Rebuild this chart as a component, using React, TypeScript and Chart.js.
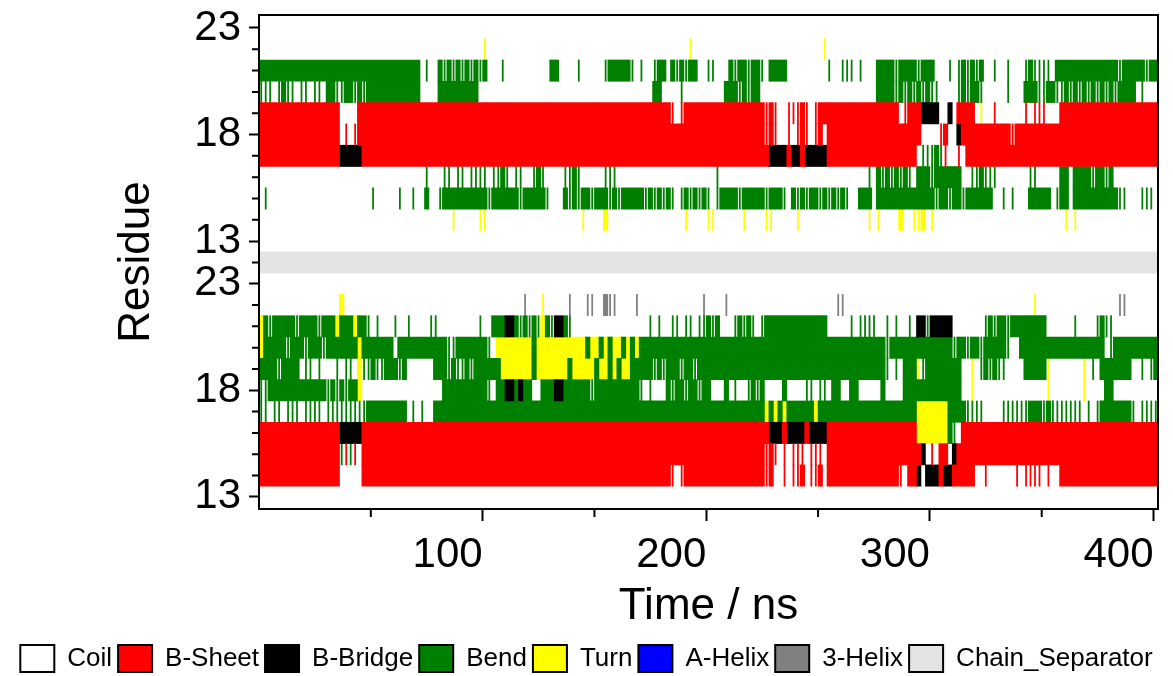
import React, { useEffect, useRef } from 'react';
import { Chart, registerables } from 'chart.js';

Chart.register(...registerables);

// ---------- axes / categories ----------
const TIME_MIN = 0;
const TIME_MAX = 402;
const BIN_NS = 2; // each character of a row string = one 2 ns frame bin
const STRIPE_NS = 0.5; // lowercase = brief occurrence inside a bin
const X_MAJOR_TICKS = [100, 200, 300, 400];
const X_MINOR_TICKS = [50, 150, 250, 350];
const RESIDUES = [13, 14, 15, 16, 17, 18, 19, 20, 21, 22, 23];
const LABELED_RESIDUES = [13, 18, 23];

const STATE_NAMES = ['Coil', 'B-Sheet', 'B-Bridge', 'Bend', 'Turn', 'A-Helix', '3-Helix', 'Chain_Separator'];
const STATE_CODES = ['C', 'E', 'B', 'S', 'T', 'H', 'G', 'X'];
const STATE_COLORS = ['#ffffff', '#ff0000', '#000000', '#008000', '#ffff00', '#0000ff', '#808080', '#e4e4e4'];

// ---------- data: upper chain, residues 13..23 ("a-b:X" fills bins a..b, "a:xyz" sets bins from a) ----------
const CHAIN_TOP = [
  /*13*/ '',
  /*14*/ '43:t 49:t 50:t 72:t 77:T 95:t 100:t 101:t 108:t 113:tt 120:t 136:t 138:t 143:T 146:ttT 150:t 180:t 182:t',
  /*15*/ '1:s 25:s 31:s 34:s 37:S 40:sSSSSSSSSS 50:SsSSSSSSsS 60:SSSSs...Ss 70:SsSSsSSSsS 80:sSSSSSsSsS 90:sSs.sSsSsS 100:s.sSSSSsSS 110:SSSsSSSs.S 120:sSsSSsSsSs 130:Ss..SSS.SS 140:SSSSSSSSSS 150:SsSSsSSsSS 160:SSSS..s.s. 170:..SSSSS.sS 180:S.SSSSSSSS 190:SSss...sss.',
  /*16*/ '37:s 41:ss.ss.ssss 52:ssSs.ss..sSs 68:ssSs 77:sss 102:s 136:s 138:SsSsSsSs 147-156:S 150:s 159:ssSsss 172:ss 179:SS 182:SSSSsSSsS',
  /*17*/ '0-17:E 18-22:B 23-112:E 113:EBBBBEBBEBBBBBE 128-146:E 148:sss 150:sSse..e 158-200:E',
  /*18*/ '0-17:E 18:.e.e 22-112:E 113:eEe..e.eEe.eE. 127-147:E 152:eE 156:B 157-200:E 168:e',
  /*19*/ '0-17:E 22-91:E 92:e.e 95-112:E 113:eEe..eeeEe.eEE 127-142:E 143:.eEEEBBB 150:BB..B.EEEE.t..e 171:e.eee 179-200:E',
  /*20*/ '0:sss.sSss.ss.ss 15:SSssSSsSsS 25-35:S 40-48:S 88:SS 94:s 104-111:S 107:s 109:s 138:SSSSsSsSsSsSs 150:ss 156:sSsSSs 167:s 171:SSSssSS 178:ssSsSsSsSsSsSs 192-195:S 197:s',
  /*21*/ '0-35:S 37:s 40:SsSsSsSsSs 50:S 54:s 65:SS 71:s 77:sSSSSSs 85:s 88:sSS 92:SsSs 96:SS 100:ss 105:SsSSsSSs 114-117:S 127:s 130:sss 134:s 138-150:S 142:s 147:s 154:s 156:sSsSsS 164:s 167:s 171:sSssss 178-191:S 192:s 193-197:S 198:s 199:SS',
  /*22*/ '50:t 96:t 126:t',
  /*23*/ '',
];

// ---------- data: lower chain, residues 13..23 ----------
const CHAIN_BOTTOM = [
  /*13*/ '',
  /*14*/ '0-17:E 23-91:E 92:e.e 95-112:E 113:eE..e.eeE.eeE. 127-142:E 143:e. 145:EEB.BBBEBB 155-159:E 162:e 169:e 171:eeee 176:e 179-200:E',
  /*15*/ '0-17:E 18:sese 23-112:E 113:eEe.e.eee.eee. 127-147:E 148:B 150:e 152:EE 155:B 156-200:E',
  /*16*/ '0-17:E 18-22:B 23-112:E 113:EBBBEBBBBEBBBBE 128-146:E 147:TTTTTTT 154:Ss 157-200:E',
  /*17*/ '0:ss.ss.sss.ssss.sssssssss 24-32:S 33:.s.s.. 39-112:S 113:TSTSTSSSSSSTS 126-146:S 147:TTTTTTTS 155-157:S 158:ssss 166:ssssss 172:SSS 175:sSssssss 183:s.s.s 188-194:S 195:s 197:ssss',
  /*18*/ '0:ss 2-14:S 15:sSsSsSST 41-50:S 51:s. 53:SSBBSBSS.. 63-65:S 66:BB 68-84:S 74:s 85:s.s... 91:SsSSsSSsSS 104:S 106:s..s 110:SsS 117:S 122:ss.ss 128:SS 132:SS 139:S 144-156:S 159:t 176:t 184:t 189:SS',
  /*19*/ '0-8:S 4:s 10:ss 13:s 17:s 19:ss 22:T 23:s 24:sSss 28:SSSsS 39:SSSsSssSsSSS 50-53:S 54:TTTTTTTSTTTTTTTSTTTT 74:TSTTSTSTTS 84:SSSSsSs 91-139:S 94:s 97:s 140:s.s. 144-146:S 147:tsSS 150-156:S 157:..t 161:sSsSss 171-175:S 176:t 184:t 186:s 188-194:S 197:s 199:sS',
  /*20*/ '0:T 1-29:S 6:s 10:s 14:s 22:T 31-41:S 42:ss 44-50:S 51:s 53:TTTTTTTTSTTTTTTTTT 71:TTSTTSTSTTSTST 85-166:S 140:s 155:s 158:s 161:s 167:s 170-188:S 190:s 191-200:S',
  /*21*/ '0:TSsSSSSSsSSSSsSSSTSSSTSSs 26:s 30:s 33:s 38:ss 49:s 52:SSSBB 57:SsSsSsTSs 66:BBSs 87:s 89:s 92:ss 95:ss 98:ss 100:SsS 106:sSsSs 112:sSS 115-126:S 132:s 134:ssss 140:s 142:s 145:s 147:BBsBBBBB 162:sSsSSs 168-175:S 182:s 187:sSss',
  /*22*/ '18:T 59:g 63:t 69:g 73:gg 77:Gg 79:g 84:g 99:g 104:g 129:gg 173:t 192:gg',
  /*23*/ '',
];

const SEPARATOR_SPEC = '0-200:X';

// ---------- helpers ----------
const N_BINS = Math.ceil((TIME_MAX - TIME_MIN) / BIN_NS);
const SEPARATOR_ROW = RESIDUES.length;
const TOTAL_ROWS = RESIDUES.length * 2 + 1;
const Y_MIN = -0.57;
const Y_MAX = TOTAL_ROWS - 0.5 + 0.11;

const rowBottom = (res: number) => RESIDUES.indexOf(res);
const rowTop = (res: number) => SEPARATOR_ROW + 1 + RESIDUES.indexOf(res);

const Y_TICK_ROWS = [...LABELED_RESIDUES.map(rowBottom), ...LABELED_RESIDUES.map(rowTop)];
const Y_TICK_LABELS = [...LABELED_RESIDUES, ...LABELED_RESIDUES].map(String);

function decodeRow(spec: string): string[] {
  const bins = new Array(N_BINS).fill('.');
  spec.split(/\s+/).filter(Boolean).forEach((tok) => {
    const idx = tok.indexOf(':');
    const range = tok.slice(0, idx);
    const chars = tok.slice(idx + 1);
    if (range.includes('-')) {
      const [a, b] = range.split('-').map(Number);
      for (let i = a; i <= b && i < N_BINS; i++) bins[i] = chars;
    } else {
      const a = Number(range);
      for (let k = 0; k < chars.length && a + k < N_BINS; k++) bins[a + k] = chars[k];
    }
  });
  return bins;
}

function buildBars() {
  const bars: any[][] = STATE_CODES.map(() => []);
  const addRow = (spec: string, row: number) => {
    const bins = decodeRow(spec);
    let i = 0;
    while (i < N_BINS) {
      const c = bins[i];
      if (c === '.') { i++; continue; }
      const up = c.toUpperCase();
      const si = STATE_CODES.indexOf(up);
      if (si < 0) { i++; continue; }
      if (c !== up) {
        const mid = TIME_MIN + (i + 0.5) * BIN_NS;
        bars[si].push({ x: [mid - STRIPE_NS / 2, mid + STRIPE_NS / 2], y: row });
        i++;
        continue;
      }
      let j = i;
      while (j + 1 < N_BINS && bins[j + 1] === c) j++;
      bars[si].push({ x: [TIME_MIN + i * BIN_NS, Math.min(TIME_MAX, TIME_MIN + (j + 1) * BIN_NS)], y: row });
      i = j + 1;
    }
  };
  RESIDUES.forEach((res, k) => {
    addRow(CHAIN_BOTTOM[k], rowBottom(res));
    addRow(CHAIN_TOP[k], rowTop(res));
  });
  addRow(SEPARATOR_SPEC, SEPARATOR_ROW);
  return bars;
}

const FONT = 'Liberation Sans, Arial, Helvetica, sans-serif';

const frameAndMinorTicks = {
  id: 'frameAndMinorTicks',
  afterDraw(chart: any) {
    const { ctx, chartArea: a, scales } = chart;
    ctx.save();
    ctx.strokeStyle = '#000';
    ctx.lineWidth = 2;
    ctx.strokeRect(a.left, a.top, a.right - a.left, a.bottom - a.top);
    ctx.beginPath();
    X_MINOR_TICKS.forEach((v) => {
      const px = scales.x.getPixelForValue(v);
      ctx.moveTo(px, a.bottom);
      ctx.lineTo(px, a.bottom + 8);
    });
    for (let r = 0; r < TOTAL_ROWS; r++) {
      if (Y_TICK_ROWS.includes(r)) continue;
      const py = scales.y.getPixelForValue(r);
      ctx.moveTo(a.left, py);
      ctx.lineTo(a.left - 7, py);
    }
    ctx.stroke();
    ctx.restore();
  },
};

const legendShift = {
  id: 'legendShift',
  afterLayout(chart: any) {
    const l = chart.legend;
    if (l) { l.top += 6; l.bottom += 6; }
  },
};

const noScalePadding = (s: any) => {
  s.paddingTop = 0;
  s.paddingBottom = 0;
  s.paddingLeft = 0;
  s.paddingRight = 0;
};

export default function App() {
  const ref = useRef<HTMLCanvasElement>(null);
  useEffect(() => {
    const canvas = ref.current;
    if (!canvas) return;
    const bars = buildBars();
    const datasets = STATE_NAMES.map((name, i) => ({
      label: name,
      data: bars[i],
      backgroundColor: STATE_COLORS[i],
      borderWidth: 0,
      barPercentage: 1,
      categoryPercentage: 1,
      grouped: false,
    }));
    const chart = new Chart(canvas, {
      type: 'bar',
      data: { datasets } as any,
      options: {
        indexAxis: 'y',
        responsive: false,
        animation: false,
        events: [],
        layout: { padding: { top: 15, left: 0, right: 0, bottom: 0 } },
        plugins: {
          tooltip: { enabled: false },
          legend: {
            position: 'bottom',
            align: 'center',
            labels: {
              boxWidth: 34,
              boxHeight: 27,
              padding: 6,
              color: '#000',
              font: { family: FONT, size: 26 },
              generateLabels: () =>
                STATE_NAMES.map((name, i) => ({
                  text: name,
                  fillStyle: STATE_COLORS[i],
                  strokeStyle: '#000',
                  lineWidth: 2,
                  hidden: false,
                  datasetIndex: i,
                })),
            },
          },
        },
        scales: {
          x: {
            type: 'linear',
            position: 'bottom',
            min: TIME_MIN,
            max: TIME_MAX,
            offset: false,
            afterBuildTicks: (s: any) => { s.ticks = X_MAJOR_TICKS.map((v) => ({ value: v })); },
            afterFit: (s: any) => { s.height = 124; noScalePadding(s); },
            ticks: {
              align: 'end',
              padding: 9,
              color: '#000',
              autoSkip: false,
              maxRotation: 0,
              font: { family: FONT, size: 42 },
              callback: (v: any) => String(v),
            },
            grid: { display: true, offset: false, drawOnChartArea: false, drawTicks: true, tickLength: 12, tickWidth: 2, tickColor: '#000' },
            border: { display: true, color: '#000', width: 2 },
            title: { display: true, text: 'Time / ns', color: '#000', font: { family: FONT, size: 44 }, padding: { top: 0, bottom: 0 } },
          },
          y: {
            type: 'linear',
            position: 'left',
            min: Y_MIN,
            max: Y_MAX,
            offset: false,
            afterBuildTicks: (s: any) => { s.ticks = Y_TICK_ROWS.map((v) => ({ value: v })); },
            afterFit: (s: any) => { s.width = 259; noScalePadding(s); },
            ticks: {
              padding: 8,
              color: '#000',
              autoSkip: false,
              font: { family: FONT, size: 42 },
              callback: (_v: any, i: number) => Y_TICK_LABELS[i],
            },
            grid: { display: true, offset: false, drawOnChartArea: false, drawTicks: true, tickLength: 10, tickWidth: 2, tickColor: '#000' },
            border: { display: true, color: '#000', width: 2 },
            title: { display: true, text: 'Residue', color: '#000', font: { family: FONT, size: 44 }, padding: { top: 110, bottom: 0 } },
          },
          yRight: {
            type: 'linear',
            position: 'right',
            display: true,
            min: 0,
            max: 1,
            afterFit: (s: any) => { s.width = 15; noScalePadding(s); },
            ticks: { display: false },
            grid: { display: false },
            border: { display: false },
          },
        },
      } as any,
      plugins: [frameAndMinorTicks, legendShift],
    });
    return () => chart.destroy();
  }, []);
  return (
    <div style={{ position: 'fixed', left: 0, top: 0, width: 1173, height: 676, background: '#fff' }}>
      <canvas ref={ref} width={1173} height={676} style={{ display: 'block', width: 1173, height: 676 }} />
    </div>
  );
}
